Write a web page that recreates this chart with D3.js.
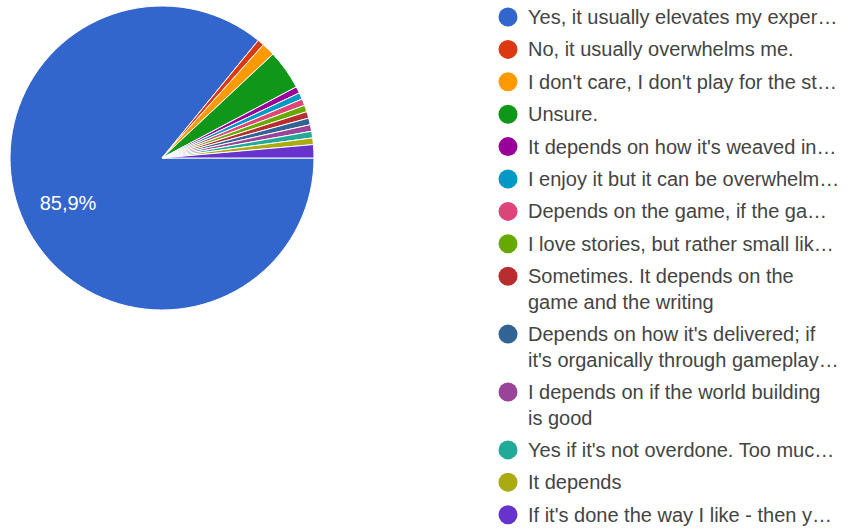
<!DOCTYPE html>
<html>
<head>
<meta charset="utf-8">
<script src="https://cdn.jsdelivr.net/npm/d3@7"></script>
<style>
  body { margin: 0; background: #fff; }
  text { font-family: 'Liberation Sans', Arial, sans-serif; }
</style>
</head>
<body>
<div id="vis"></div>
<script>
var labels = [
	['Yes, it usually elevates my exper\u2026'],
	['No, it usually overwhelms me.'],
	['I don\'t care, I don\'t play for the st\u2026'],
	['Unsure.'],
	['It depends on how it\'s weaved in\u2026'],
	['I enjoy it but it can be overwhelm\u2026'],
	['Depends on the game, if the ga\u2026'],
	['I love stories, but rather small lik\u2026'],
	['Sometimes. It depends on the', 'game and the writing'],
	['Depends on how it\'s delivered; if', 'it\'s organically through gameplay\u2026'],
	['I depends on if the world building', 'is good'],
	['Yes if it\'s not overdone. Too muc\u2026'],
	['It depends'],
	['If it\'s done the way I like - then y\u2026']
];
var counts = [122, 1, 2, 6, 1, 1, 1, 1, 1, 1, 1, 1, 1, 2];
var colors = ['#3366cc', '#dc3912', '#ff9900', '#109618', '#990099', '#0099c6', '#dd4477',
	'#66aa00', '#b82e2e', '#316395', '#994499', '#22aa99', '#aaaa11', '#6633cc'];

var width = 848,
	height = 531,
	cx = 162,
	cy = 158,
	radius = 152;

var svg = d3.select('#vis')
	.append('svg')
	.attr('width', width)
	.attr('height', height);

var data = counts.map(function(c, i) { return { i: i, value: c }; });
var total = d3.sum(counts);

var pie = d3.pie()
	.sort(null)
	.value(function(d) { return d.value; })
	.startAngle(Math.PI / 2)
	.endAngle(Math.PI / 2 + 2 * Math.PI);

var arc = d3.arc().innerRadius(0).outerRadius(radius);
var labelArc = d3.arc().innerRadius(104).outerRadius(104);

var g = svg.append('g')
	.attr('transform', 'translate(' + cx + ',' + cy + ')');

var arcs = pie(data);

g.selectAll('path')
	.data(arcs)
	.enter().append('path')
	.attr('d', arc)
	.attr('fill', function(d) { return colors[d.data.i]; })
	.attr('stroke', '#fff')
	.attr('stroke-width', 1);

// only slices big enough get a percent label
g.selectAll('.pct')
	.data(arcs.filter(function(d) { return d.data.value / total > 0.5; }))
	.enter().append('text')
	.attr('class', 'pct')
	.attr('transform', function(d) { return 'translate(' + labelArc.centroid(d) + ')'; })
	.attr('text-anchor', 'middle')
	.attr('dy', '0.35em')
	.attr('fill', '#fff')
	.attr('font-size', 20)
	.text(function(d) { return d3.format('.1f')(d.data.value / total * 100).replace('.', ',') + '%'; });

// legend
var legend = svg.append('g').attr('transform', 'translate(508,0)');
var y = 17;
labels.forEach(function(lines, i) {
	var item = legend.append('g').attr('transform', 'translate(0,' + y + ')');
	item.append('circle')
		.attr('r', 9.5)
		.attr('fill', colors[i]);
	lines.forEach(function(line, j) {
		item.append('text')
			.attr('x', 20)
			.attr('y', j * 25.5)
			.attr('dy', '0.35em')
			.attr('font-size', 20)
			.attr('fill', '#444')
			.text(line);
	});
	y += 32.4 + (lines.length - 1) * 25.5;
});
</script>
</body>
</html>
